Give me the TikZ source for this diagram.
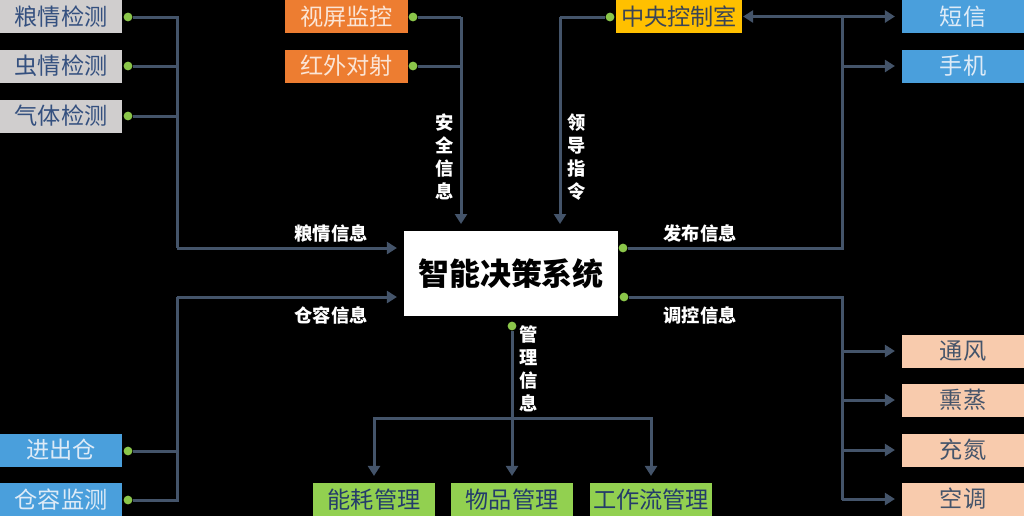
\documentclass[tikz,border=0pt]{standalone}
\usepackage{fontspec}
\newfontfamily\cjk{Noto Sans CJK SC}
\usepackage{xcolor}
\usepackage{tikz}
\usetikzlibrary{arrows.meta}
\usetikzlibrary{calc}

\definecolor{wirecol}{HTML}{44546A}
\definecolor{dotcol}{HTML}{8BC64A}
\definecolor{grayfill}{HTML}{D0CECE}
\definecolor{graytext}{HTML}{34507F}
\definecolor{orangefill}{HTML}{ED7D31}
\definecolor{orangetext}{HTML}{FBE5D6}
\definecolor{yellowfill}{HTML}{FFC000}
\definecolor{yellowtext}{HTML}{3A4456}
\definecolor{bluefill}{HTML}{4A9FDC}
\definecolor{bluetext}{HTML}{DEEBF7}
\definecolor{greenfill}{HTML}{92D050}
\definecolor{greentext}{HTML}{243C6A}
\definecolor{peachfill}{HTML}{F8CBAD}
\definecolor{peachtext}{HTML}{44546A}

\tikzset{
	box/.style={rectangle,inner sep=0pt,minimum width=3.05cm,minimum height=0.825cm,
		font=\cjk\fontsize{16.5pt}{16.5pt}\selectfont},
	gdot/.style={circle,fill=dotcol,inner sep=0pt,minimum size=0.22cm},
	wire/.style={line width=0.075cm,wirecol},
	flow/.style={wire,-{Triangle[length=0.25cm,width=0.3cm]},shorten >=0.17cm},
	twoway/.style={wire,{Triangle[length=0.25cm,width=0.3cm]}-{Triangle[length=0.25cm,width=0.3cm]},
		shorten >=0.17cm,shorten <=0.02cm},
	tag/.style={white,font=\cjk\bfseries\fontsize{13pt}{13pt}\selectfont},
	vtag/.style={tag,align=center,font=\cjk\bfseries\fontsize{13pt}{16.3pt}\selectfont}
}

\begin{document}
\begin{tikzpicture}[x=0.025cm,y=-0.025cm]
\fill[black] (0,0) rectangle (1024,516);
\useasboundingbox (0,0) rectangle (1024,516);

%systeme central
\node[rectangle,fill=white,inner sep=0pt,minimum width=5.35cm,minimum height=2.12cm,
	font=\cjk\bfseries\fontsize{22pt}{22pt}\selectfont] (K) at (511,273.5) {智能决策系统};

%capteurs de gauche
\node[box,fill=grayfill,text=graytext] (L1) at (61,16.5) {粮情检测};
\node[box,fill=grayfill,text=graytext] (L2) at (61,66) {虫情检测};
\node[box,fill=grayfill,text=graytext] (L3) at (61,116) {气体检测};
\node[gdot] (D1) at (128,17) {};
\node[gdot] (D2) at (128,66) {};
\node[gdot] (D3) at (128,116) {};
\coordinate (J1) at (177,248);
\draw[wire] (D1) -| (J1);
\draw[wire] (D2) -- (D2 -| J1);
\draw[wire] (D3) -- (D3 -| J1);
\draw[flow] (J1) -- (K.west |- J1);
\node[tag] (t1) at (331,233) {粮情信息};

%securite
\node[box,fill=orangefill,text=orangetext] (O1) at (346.5,16.5) {视屏监控};
\node[box,fill=orangefill,text=orangetext] (O2) at (346.5,66) {红外对射};
\node[gdot] (E1) at (413,17) {};
\node[gdot] (E2) at (413,66) {};
\coordinate (T1) at (461,17);
\draw[wire] (E1) -- (T1);
\draw[wire] (E2) -- (E2 -| T1);
\draw[flow] (T1) -- (T1 |- K.north);
\node[vtag] (t2) at (445,157) {安\\全\\信\\息};

%controle central
\node[box,minimum width=3.15cm,fill=yellowfill,text=yellowtext] (Y) at (679,16.5) {中央控制室};
\node[gdot] (F) at (610,17) {};
\coordinate (T2) at (560,17);
\draw[wire] (F) -- (T2);
\draw[flow] (T2) -- (T2 |- K.north);
\node[vtag] (t3) at (577,157) {领\\导\\指\\令};

%diffusion
\node[box,fill=bluefill,text=bluetext] (S1) at (963,16.5) {短信};
\node[box,fill=bluefill,text=bluetext] (S2) at (963,66) {手机};
\node[gdot] (G1) at (623,248) {};
\coordinate (J3) at (842,248);
\coordinate (T3) at (842,17);
\draw[wire] (G1) -- (J3) -- (T3);
\draw[twoway] (Y) -- (S1);
\draw[flow] (S2 -| T3) -- (S2);
\node[tag] (t4) at (700,233) {发布信息};

%capacite
\node[box,fill=bluefill,text=bluetext] (B1) at (61,450) {进出仓};
\node[box,fill=bluefill,text=bluetext] (B2) at (61,499.5) {仓容监测};
\node[gdot] (H1) at (128,451) {};
\node[gdot] (H2) at (128,500) {};
\coordinate (J4) at (177,297);
\draw[wire] (H2) -| (J4);
\draw[wire] (H1) -- (H1 -| J4);
\draw[flow] (J4) -- (K.west |- J4);
\node[tag] (t5) at (331,315) {仓容信息};

%regulation
\node[box,fill=peachfill,text=peachtext] (R1) at (963,351) {通风};
\node[box,fill=peachfill,text=peachtext] (R2) at (963,400) {熏蒸};
\node[box,fill=peachfill,text=peachtext] (R3) at (963,450) {充氮};
\node[box,fill=peachfill,text=peachtext] (R4) at (963,499) {空调};
\node[gdot] (G2) at (624,297) {};
\coordinate (J5) at (842,500);
\draw[wire] (G2) -| (J5);
\foreach \r in {R1,R2,R3,R4}
	\draw[flow] (\r -| J5) -- (\r);
\node[tag] (t6) at (700,315) {调控信息};

%gestion
\node[box,fill=greenfill,text=greentext] (M1) at (374,499.5) {能耗管理};
\node[box,fill=greenfill,text=greentext] (M2) at (512,499.5) {物品管理};
\node[box,fill=greenfill,text=greentext] (M3) at (651,499.5) {工作流管理};
\node[gdot] (G3) at (512,326) {};
\coordinate (J6) at (512,418);
\draw[flow] (G3) -- (M2);
\draw[flow] (J6) -| (M1);
\draw[flow] (J6) -| (M3);
\node[vtag] (t7) at (529,369) {管\\理\\信\\息};
\end{tikzpicture}
\end{document}
